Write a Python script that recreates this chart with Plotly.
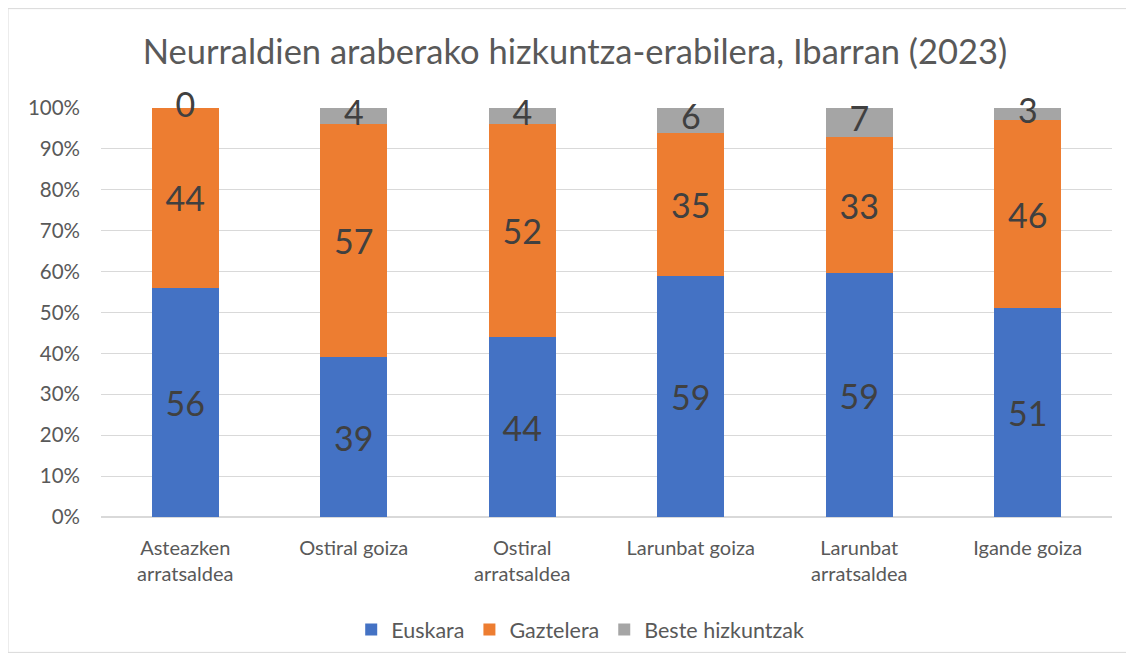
import plotly.graph_objects as go

categories = ["Asteazken<br>arratsaldea", "Ostiral goiza", "Ostiral<br>arratsaldea",
              "Larunbat goiza", "Larunbat<br>arratsaldea", "Igande goiza"]
euskara = [56, 39, 44, 59, 59, 51]
gaztelera = [44, 57, 52, 35, 33, 46]
beste = [0, 4, 4, 6, 7, 3]
series = [("Euskara", euskara, "#4472C4"),
          ("Gaztelera", gaztelera, "#ED7D31"),
          ("Beste hizkuntzak", beste, "#A5A5A5")]

FONT = "Lato"
LABEL_SIZE = 34
OFF = 8  # default body margin of the html page
fig = go.Figure()
for i, (name, vals, col) in enumerate(series):
    last = i == len(series) - 1
    fig.add_trace(go.Bar(
        x=categories, y=vals, name=name, marker=dict(color=col, line=dict(width=0)),
        text=None if last else [str(v) for v in vals],
        textposition="inside", insidetextanchor="middle", textangle=0,
        textfont=dict(family=FONT, size=LABEL_SIZE, color="#404040"),
        constraintext="none", cliponaxis=False, hoverinfo="skip"))

# labels of the thin top segments (centred on the segment, overflowing like Excel)
totals = [e + g + b for e, g, b in zip(euskara, gaztelera, beste)]
mid_top = [(e + g + b / 2) / t * 100 for e, g, b, t in zip(euskara, gaztelera, beste, totals)]
fig.add_trace(go.Scatter(
    x=categories, y=mid_top, mode="text", text=[str(v) for v in beste],
    textposition="middle center", showlegend=False, hoverinfo="skip", cliponaxis=False,
    textfont=dict(family=FONT, size=LABEL_SIZE, color="#404040")))

fig.update_layout(
    barmode="stack", barnorm="percent", bargap=0.6,
    width=1134 - OFF, height=662 - OFF,
    margin=dict(l=101 - OFF, r=22, t=108 - OFF, b=143 - OFF),
    paper_bgcolor="white", plot_bgcolor="white",
    title=dict(text="Neurraldien araberako hizkuntza-erabilera, Ibarran (2023)",
               x=(575 - OFF) / (1134 - OFF), xanchor="center",
               y=1 - (52 - OFF) / (662 - OFF), yanchor="middle",
               font=dict(family=FONT, size=34.5, color="#595959")),
    uniformtext=dict(mode=False),
    legend=dict(orientation="h", x=0.474, xanchor="center", y=-0.275, yanchor="middle",
                font=dict(family=FONT, size=21.5, color="#595959"), traceorder="normal",
                itemwidth=30),
    font=dict(family=FONT),
)
fig.update_yaxes(range=[0, 100], dtick=10, ticksuffix="%", showgrid=True,
                 gridcolor="#D9D9D9", gridwidth=1, zeroline=True, zerolinecolor="#D9D9D9",
                 tickfont=dict(family=FONT, size=20.5, color="#595959"), ticks="",
                 showline=False, ticklabelstandoff=20)
fig.update_xaxes(tickfont=dict(family=FONT, size=20, color="#595959"), showline=True,
                 linecolor="#D9D9D9", ticks="", ticklabelstandoff=13)
fig.add_shape(type="rect", xref="paper", yref="paper", x0=-0.092, x1=1.0148, y0=-0.331, y1=1.243,
              line=dict(color="#D9D9D9", width=1), fillcolor="rgba(0,0,0,0)", layer="below")
fig.write_html("out.html")
